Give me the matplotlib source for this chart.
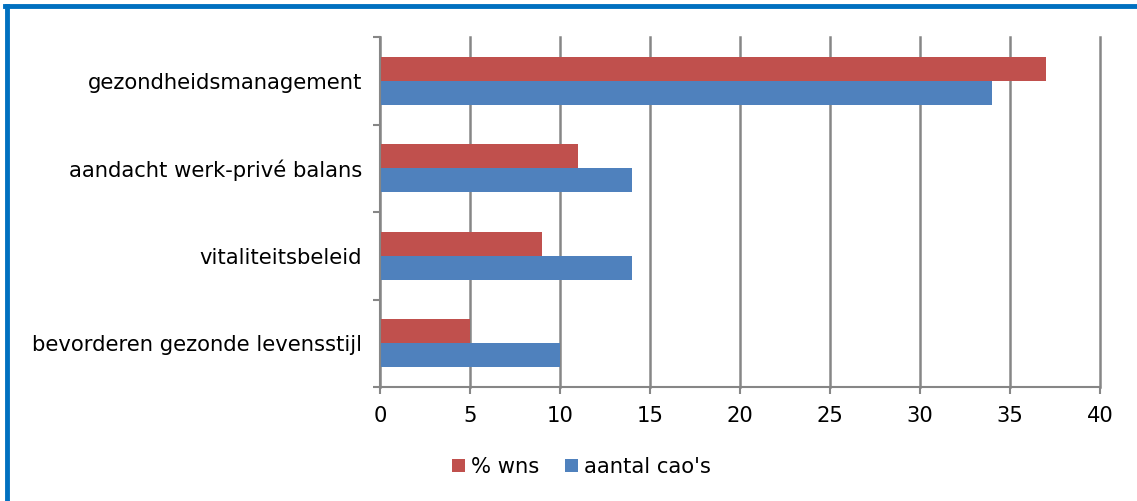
import numpy as np
import matplotlib
matplotlib.use("Agg")
import matplotlib.pyplot as plt
from matplotlib.lines import Line2D

categories = ["gezondheidsmanagement", "aandacht werk-privé balans",
              "vitaliteitsbeleid", "bevorderen gezonde levensstijl"]
pct_wns = [37, 11, 9, 5]
aantal_caos = [34, 14, 14, 10]
series_names = ["% wns", "aantal cao's"]
red = "#C0504D"
blue = "#4F81BD"
grid_col = "#868686"

plt.rcParams['font.family'] = ['DejaVu Sans']
fs = 15.2

fig = plt.figure(figsize=(11.37, 5.01), dpi=100)
ax = fig.add_axes([380/1137, 1 - 387/501, 720/1137, 350/501])

# categories top to bottom
y = np.arange(len(categories))[::-1].astype(float)
h = 0.275
ax.barh(y + h/2, pct_wns, height=h, color=red, label=series_names[0], zorder=3)
ax.barh(y - h/2, aantal_caos, height=h, color=blue, label=series_names[1], zorder=3)

ax.set_xlim(0, 40)
ax.set_ylim(-0.5, len(categories) - 0.5)
ax.set_xticks(np.arange(0, 41, 5))
ax.tick_params(axis='x', labelsize=fs, length=5, color=grid_col, width=1.5, pad=9)
ax.set_yticks(y)
ax.set_yticklabels(categories, fontsize=fs)
ax.tick_params(axis='y', length=0, pad=13)
# category separators as minor ticks
ax.set_yticks(np.arange(-0.5, len(categories), 1.0), minor=True)
ax.tick_params(axis='y', which='minor', length=5, color=grid_col, width=1.5)

ax.grid(axis='x', color=grid_col, linewidth=1.8, zorder=0)
for gl in ax.get_xgridlines():
    gl.set_clip_on(False)
for s in ['top', 'right']:
    ax.spines[s].set_visible(False)
for s in ['left', 'bottom']:
    ax.spines[s].set_color(grid_col)
    ax.spines[s].set_linewidth(1.5)
    ax.spines[s].set_zorder(4)

ax.legend(loc='center', bbox_to_anchor=(0.28, -0.228), ncol=2, frameon=False,
          fontsize=fs, handlelength=0.6, handleheight=0.6, handletextpad=0.3,
          columnspacing=1.2)

# blue frame around chart (only left and top visible)
fig.add_artist(Line2D([7/1137, 7/1137], [0, 1 - 6/501], color="#0070C0", linewidth=3.5))
fig.add_artist(Line2D([5/1137, 1], [1 - 6/501, 1 - 6/501], color="#0070C0", linewidth=3.5))

fig.savefig("out.png", dpi=100)
